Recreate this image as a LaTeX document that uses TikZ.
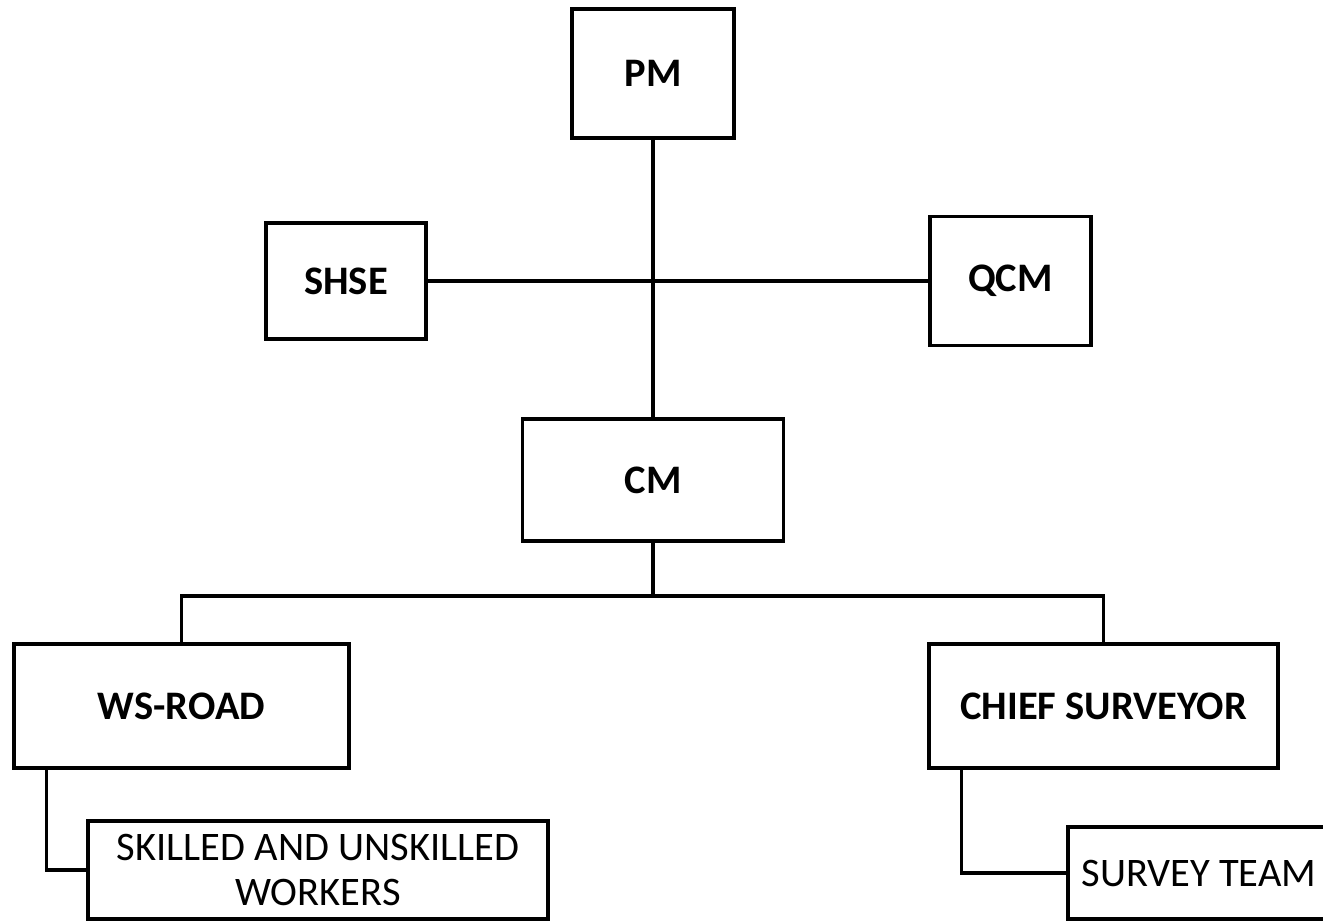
\documentclass[tikz,border=0pt]{standalone}
\usepackage{fontspec}
\setmainfont{Carlito}
\tikzset{
  unitbox/.style={draw=black, line width=3.2pt, inner sep=0pt, align=center,
    font=\fontsize{40.5}{45}\selectfont},
  headbox/.style={unitbox, font=\fontsize{40.5}{45}\selectfont\bfseries}
}
\begin{document}
\begin{tikzpicture}[x=1pt, y=-1pt, line width=3.2pt]
\useasboundingbox (0,0) rectangle (1323,921);
\node[headbox, minimum width=162pt, minimum height=129pt] (pm) at (653,73.5) {PM};
\node[headbox, minimum width=160pt, minimum height=116pt] (shse) at (346,281) {SHSE};
\node[headbox, minimum width=161pt, minimum height=129pt] (qcm) at (1010.5,281) {QCM};
\node[headbox, minimum width=261pt, minimum height=122pt] (cm) at (653,480) {CM};
\node[headbox, minimum width=335pt, minimum height=124pt] (wsroad) at (181.5,706) {WS-ROAD};
\node[headbox, minimum width=349pt, minimum height=124pt] (chief) at (1103.5,706) {CHIEF SURVEYOR};
\node[unitbox, minimum width=460pt, minimum height=98pt] (workers) at (318,870) {SKILLED AND UNSKILLED\\WORKERS};
\node[unitbox, minimum width=262pt, minimum height=92pt] (survey) at (1199,873) {SURVEY TEAM};
\coordinate (split) at (653,596);
\draw (pm) -- (cm);
\draw (shse) -- (qcm);
\draw (cm) -- (split);
\draw (wsroad.north) |- (split) -| (chief.north);
\draw ([xshift=34pt]wsroad.south west) |- (workers.west);
\draw ([xshift=34pt]chief.south west) |- (survey.west);
\end{tikzpicture}
\end{document}
